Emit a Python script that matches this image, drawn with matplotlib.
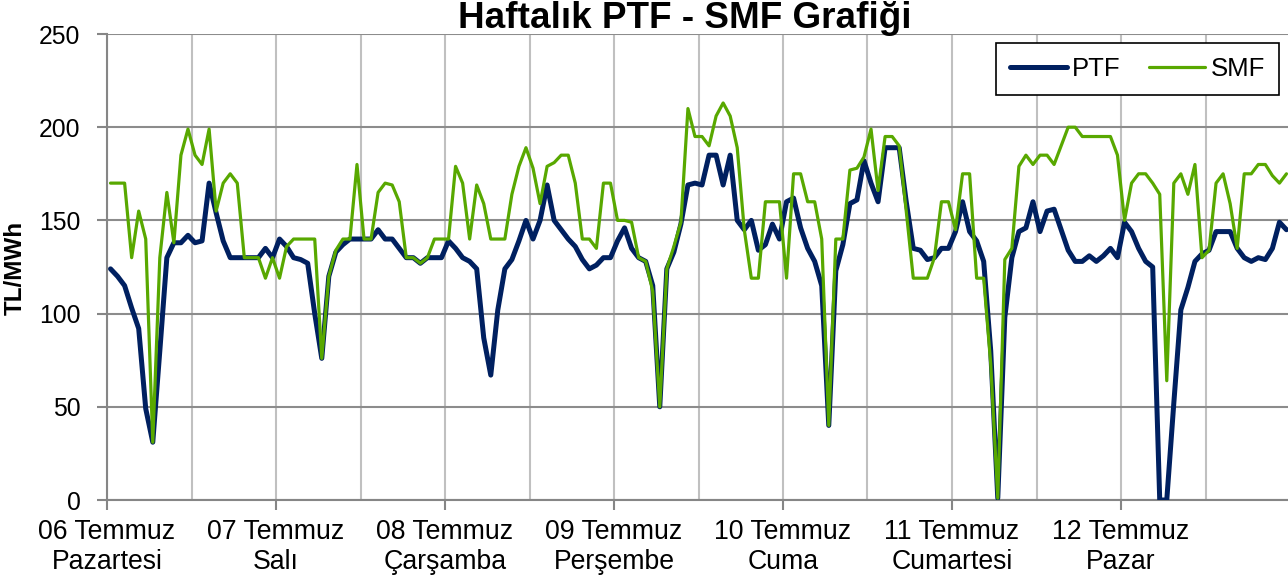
import numpy as np
import matplotlib
matplotlib.use("Agg")
import matplotlib.pyplot as plt
from matplotlib.ticker import FixedLocator

plt.rcParams['font.family'] = ['Liberation Sans', 'DejaVu Sans']

title = "Haftalık PTF - SMF Grafiği"
ylabel = "TL/MWh"
day_labels = ["06 Temmuz\nPazartesi", "07 Temmuz\nSalı", "08 Temmuz\nÇarşamba",
              "09 Temmuz\nPerşembe", "10 Temmuz\nCuma", "11 Temmuz\nCumartesi",
              "12 Temmuz\nPazar"]
y_ticks = [0, 50, 100, 150, 200, 250]

ptf = [
    124, 120, 115, 103, 92, 49, 31, 80, 130, 138, 138, 142, 138, 139, 170, 154, 139, 130, 130, 130, 130, 130, 135, 130,
    140, 136, 130, 129, 127, 100, 76, 120, 133, 137, 140, 140, 140, 140, 145, 140, 140, 135, 130, 130, 127, 130, 130, 130,
    139, 135, 130, 128, 124, 87, 67, 102, 124, 129, 139, 150, 140, 150, 169, 150, 145, 140, 136, 129, 124, 126, 130, 130,
    139, 146, 135, 130, 128, 115, 50, 124, 133, 148, 169, 170, 169, 185, 185, 169, 185, 150, 145, 150, 134, 137, 148, 140,
    160, 162, 146, 135, 128, 115, 40, 123, 137, 159, 161, 182, 170, 160, 189, 189, 189, 160, 135, 134, 129, 130, 135, 135,
    144, 160, 144, 139, 128, 80, 1, 98, 130, 144, 146, 160, 144, 155, 156, 145, 134, 128, 128, 131, 128, 131, 135, 130,
    149, 144, 135, 128, 125, 0, 0, 52, 102, 114, 128, 132, 134, 144, 144, 144, 135, 130, 128, 130, 129, 135, 149, 145,
]
smf = [
    170, 170, 170, 130, 155, 140, 31, 130, 165, 138, 185, 199, 185, 180, 199, 155, 170, 175, 170, 130, 130, 130, 119, 130,
    119, 136, 140, 140, 140, 140, 76, 120, 134, 140, 140, 180, 140, 140, 165, 170, 169, 160, 130, 130, 127, 130, 140, 140,
    140, 179, 170, 140, 169, 159, 140, 140, 140, 164, 179, 189, 178, 159, 179, 181, 185, 185, 170, 140, 140, 135, 170, 170,
    150, 150, 149, 130, 128, 112, 50, 124, 136, 149, 210, 195, 195, 190, 206, 213, 206, 189, 145, 119, 119, 160, 160, 160,
    119, 175, 175, 160, 160, 140, 40, 140, 140, 177, 178, 184, 199, 166, 195, 195, 190, 155, 119, 119, 119, 130, 160, 160,
    145, 175, 175, 119, 119, 73, 1, 129, 135, 179, 185, 180, 185, 185, 180, 190, 200, 200, 195, 195, 195, 195, 195, 185,
    150, 170, 175, 175, 170, 164, 64, 170, 175, 164, 180, 130, 134, 170, 175, 159, 135, 175, 175, 180, 180, 174, 170, 175,
]

hours = np.arange(len(ptf)) + 0.5

W, H = 1288, 581
fig = plt.figure(figsize=(W / 100, H / 100), dpi=100)
ax = fig.add_axes([107 / W, 1 - 500 / H, (1290 - 107) / W, 466 / H])

ptf_color = '#002060'
smf_color = '#58A800'
ax.plot(hours, ptf, color=ptf_color, lw=3.6, solid_joinstyle='round',
        solid_capstyle='round', label='PTF', zorder=3)
ax.plot(hours, smf, color=smf_color, lw=2.3, solid_joinstyle='round',
        solid_capstyle='round', label='SMF', zorder=4)

ax.set_xlim(0, 168)
ax.set_ylim(0, 250)
ax.set_yticks(y_ticks)
ax.set_xticks(np.arange(0, 24 * len(day_labels), 24))
ax.set_xticklabels(day_labels, fontsize=19.2, linespacing=1.2)
ax.xaxis.set_minor_locator(FixedLocator(np.arange(12, 169, 12)))
ax.tick_params(axis='x', which='major', length=7, width=1.5, color='#868686', pad=7)
ax.tick_params(axis='x', which='minor', length=0)
ax.tick_params(axis='y', length=7, width=1.5, color='#868686', pad=12, labelsize=17.8)

ax.grid(axis='y', color='#8C8C8C', lw=1.5, zorder=1)
ax.grid(axis='x', which='both', color='#C0C0C0', lw=1.5, zorder=1)
ax.set_axisbelow(True)
for s in ['top', 'right']:
    ax.spines[s].set_visible(False)
for s in ['left', 'bottom']:
    ax.spines[s].set_color('#868686')
    ax.spines[s].set_linewidth(1.5)

fig.text(685 / W, 1 - 28.5 / H, title, ha='center', va='baseline',
         fontsize=26.6, fontweight='bold')
fig.text(15 / W, 1 - 268 / H, ylabel, rotation=90, ha='center', va='center',
         fontsize=17.5, fontweight='bold')

leg = ax.legend(loc='upper right', bbox_to_anchor=(1279 / W, 1 - 43 / H),
                bbox_transform=fig.transFigure, borderaxespad=0, ncol=2,
                fontsize=18.5, frameon=True, fancybox=False, framealpha=1,
                handlelength=2.2, handletextpad=0.2, columnspacing=1.1,
                borderpad=0.55)
leg.get_frame().set_edgecolor('black')
leg.get_frame().set_linewidth(1.2)

fig.savefig('out.png', dpi=100)
